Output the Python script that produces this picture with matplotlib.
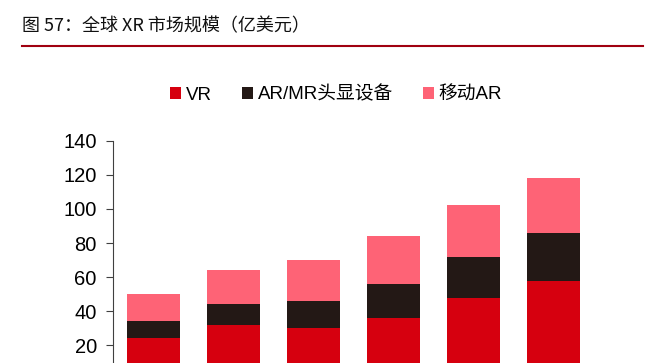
import matplotlib.pyplot as plt
import numpy as np
from matplotlib.lines import Line2D

plt.rcParams['font.family'] = ['Liberation Sans', 'Noto Sans CJK SC']

years = ['2019', '2020', '2021', '2022', '2023', '2024']
vr = [24, 32, 30, 36, 48, 58]
ar_mr_headset = [10, 12, 16, 20, 24, 28]
mobile_ar = [16, 20, 24, 28, 30, 32]
series_names = ['VR', 'AR/MR头显设备', '移动AR']
colors = ['#d6000f', '#231815', '#fe6376']

fig = plt.figure(figsize=(6.5, 3.63), dpi=100)
# the chart is cut at the bottom in the reference, so the axes run past the edge
ax = fig.add_axes([0.1746, -0.0452, 0.7385, 0.6576])

x = np.arange(len(years))
bottom = np.zeros(len(years))
for vals, name, c in zip([vr, ar_mr_headset, mobile_ar], series_names, colors):
    ax.bar(x, vals, width=0.66, bottom=bottom, color=c, label=name)
    bottom += np.array(vals)

ax.set_xlim(-0.5, len(years) - 0.5)
ax.set_ylim(0, 140)
ax.set_yticks(range(20, 141, 20))
ax.set_xticks(x)
ax.set_xticklabels(years)
for s in ['top', 'right']:
    ax.spines[s].set_visible(False)
ax.spines['left'].set_color('#404040')
ax.spines['bottom'].set_color('#404040')
ax.tick_params(axis='y', labelsize=14.5, length=5, color='#404040', pad=7)
ax.tick_params(axis='x', length=0, labelbottom=False)

fig.legend(loc='center', bbox_to_anchor=(336 / 650, 1 - 95 / 363), ncol=3, frameon=False,
           fontsize=13.5, handlelength=0.6, handleheight=0.6, handletextpad=0.25,
           columnspacing=1.6, borderpad=0)

fig.text(22 / 650, 1 - 31 / 363, '图 57：全球 XR 市场规模（亿美元）', fontsize=13,
         family=['Noto Sans CJK SC', 'DejaVu Sans'], va='baseline', ha='left', color='#111111')
fig.add_artist(Line2D([22 / 650, 643 / 650], [1 - 46 / 363, 1 - 46 / 363],
                      transform=fig.transFigure, color='#a00010', lw=1.5))

fig.savefig('out.png', dpi=100)
